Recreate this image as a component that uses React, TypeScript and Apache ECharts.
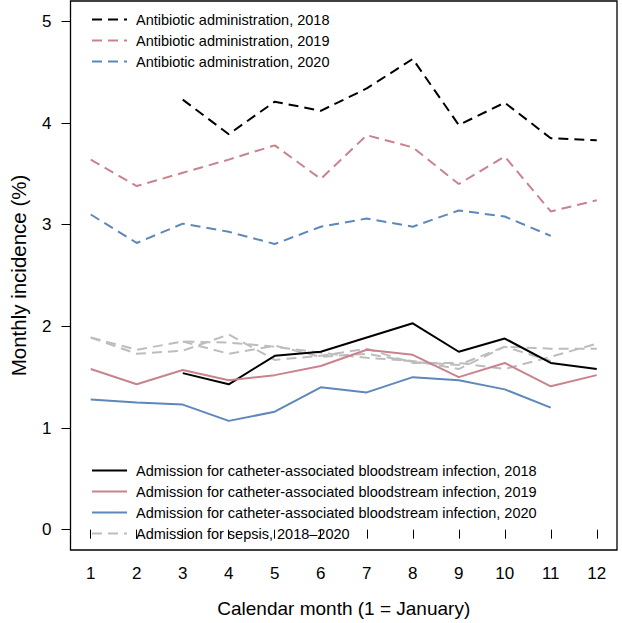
import React, { useEffect, useRef } from "react";
import * as echarts from "echarts";

const months = [1, 2, 3, 4, 5, 6, 7, 8, 9, 10, 11, 12];
const yTicks = [0, 1, 2, 3, 4, 5];

const abx2018 = [null, null, 4.23, 3.89, 4.21, 4.12, 4.34, 4.63, 3.98, 4.2, 3.85, 3.83];
const abx2019 = [3.64, 3.38, 3.51, 3.64, 3.78, 3.45, 3.88, 3.76, 3.4, 3.67, 3.13, 3.24];
const abx2020 = [3.1, 2.82, 3.01, 2.93, 2.81, 2.98, 3.06, 2.98, 3.14, 3.08, 2.89, null];

const clabsi2018 = [null, null, 1.54, 1.43, 1.71, 1.75, 1.89, 2.03, 1.75, 1.88, 1.64, 1.58];
const clabsi2019 = [1.58, 1.43, 1.57, 1.47, 1.52, 1.61, 1.77, 1.72, 1.5, 1.64, 1.41, 1.52];
const clabsi2020 = [1.28, 1.25, 1.23, 1.07, 1.16, 1.4, 1.35, 1.5, 1.47, 1.38, 1.2, null];

const sepsis2018 = [null, null, 1.85, 1.73, 1.81, 1.7, 1.73, 1.65, 1.62, 1.8, 1.78, 1.78];
const sepsis2019 = [1.89, 1.73, 1.76, 1.92, 1.67, 1.71, 1.78, 1.64, 1.64, 1.58, 1.7, 1.83];
const sepsis2020 = [1.89, 1.77, 1.85, 1.84, 1.8, 1.74, 1.69, 1.66, 1.58, 1.8, 1.66, null];

const NAME_ABX18 = "Antibiotic administration, 2018";
const NAME_ABX19 = "Antibiotic administration, 2019";
const NAME_ABX20 = "Antibiotic administration, 2020";
const NAME_CL18 = "Admission for catheter-associated bloodstream infection, 2018";
const NAME_CL19 = "Admission for catheter-associated bloodstream infection, 2019";
const NAME_CL20 = "Admission for catheter-associated bloodstream infection, 2020";
const NAME_SEPSIS = "Admission for sepsis, 2018\u20132020";

const X_TITLE = "Calendar month (1 = January)";
const Y_TITLE = "Monthly incidence (%)";

const BLACK = "#000000";
const PINK = "#c9838d";
const BLUE = "#5d88b9";
const GREY = "#bdbdbd";

const FONT = "Liberation Sans, Arial, Helvetica, sans-serif";

function pairs(vals: (number | null)[]) {
  const out: [number, number][] = [];
  vals.forEach((v, i) => {
    if (v !== null) out.push([months[i], v]);
  });
  return out;
}

function lineSeries(name: string, vals: (number | null)[], color: string, dashed: boolean, z = 2) {
  return {
    type: "line",
    name,
    data: pairs(vals),
    showSymbol: false,
    symbol: "none",
    z,
    lineStyle: {
      color,
      width: 2,
      type: dashed ? [10, 6] : "solid",
    },
    itemStyle: { color },
    emphasis: { disabled: true },
  };
}

export default function App() {
  const ref = useRef<HTMLDivElement>(null);
  useEffect(() => {
    if (!ref.current) return;
    const chart = echarts.init(ref.current, null, { renderer: "svg" });
    const legendCommon = {
      orient: "vertical",
      left: 91,
      padding: 0,
      itemWidth: 35,
      itemHeight: 14,
      itemGap: 0,
      selectedMode: false,
      itemStyle: { opacity: 0 },
      textStyle: {
        fontSize: 14.5,
        lineHeight: 21,
        color: "#000",
        fontFamily: FONT,
        padding: [0, 0, 0, 4],
      },
    };
    chart.setOption({
      animation: false,
      backgroundColor: "#ffffff",
      textStyle: { fontFamily: FONT },
      grid: {
        left: 67,
        top: 1,
        width: 550,
        height: 555,
        show: true,
        borderColor: "#000",
        borderWidth: 1.3,
        backgroundColor: "transparent",
      },
      legend: [
        {
          ...legendCommon,
          top: 9,
          data: [NAME_ABX18, NAME_ABX19, NAME_ABX20],
        },
        {
          ...legendCommon,
          top: 460,
          data: [NAME_CL18, NAME_CL19, NAME_CL20, NAME_SEPSIS],
        },
      ],
      xAxis: {
        type: "value",
        min: 0.56,
        max: 12.44,
        name: X_TITLE,
        nameLocation: "middle",
        nameGap: 49,
        nameTextStyle: { fontSize: 19, color: "#000", fontFamily: FONT },
        axisLine: { show: false },
        splitLine: { show: false },
        axisTick: {
          show: true,
          customValues: months,
          length: 9,
          lineStyle: { color: "#000", width: 1 },
        },
        axisLabel: {
          customValues: months,
          fontSize: 17,
          color: "#000",
          margin: 15,
          fontFamily: FONT,
        },
      },
      yAxis: {
        type: "value",
        min: -0.2,
        max: 5.2,
        name: Y_TITLE,
        nameLocation: "middle",
        nameRotate: 90,
        nameGap: 41.5,
        nameTextStyle: { fontSize: 20.5, color: "#000", fontFamily: FONT },
        axisLine: { show: false },
        splitLine: { show: false },
        axisTick: {
          show: true,
          customValues: yTicks,
          length: 9,
          lineStyle: { color: "#000", width: 1 },
        },
        axisLabel: {
          customValues: yTicks,
          fontSize: 17,
          color: "#000",
          margin: 19,
          fontFamily: FONT,
        },
      },
      series: [
        lineSeries(NAME_SEPSIS, sepsis2018, GREY, true, 1),
        lineSeries(NAME_SEPSIS, sepsis2019, GREY, true, 1),
        lineSeries(NAME_SEPSIS, sepsis2020, GREY, true, 1),
        lineSeries(NAME_ABX18, abx2018, BLACK, true),
        lineSeries(NAME_ABX19, abx2019, PINK, true),
        lineSeries(NAME_ABX20, abx2020, BLUE, true),
        lineSeries(NAME_CL18, clabsi2018, BLACK, false, 3),
        lineSeries(NAME_CL19, clabsi2019, PINK, false, 3),
        lineSeries(NAME_CL20, clabsi2020, BLUE, false, 3),
      ],
    });
    return () => chart.dispose();
  }, []);
  return (
    <div
      ref={ref}
      style={{ position: "fixed", left: 0, top: 0, width: 622, height: 623, background: "#fff" }}
    />
  );
}
